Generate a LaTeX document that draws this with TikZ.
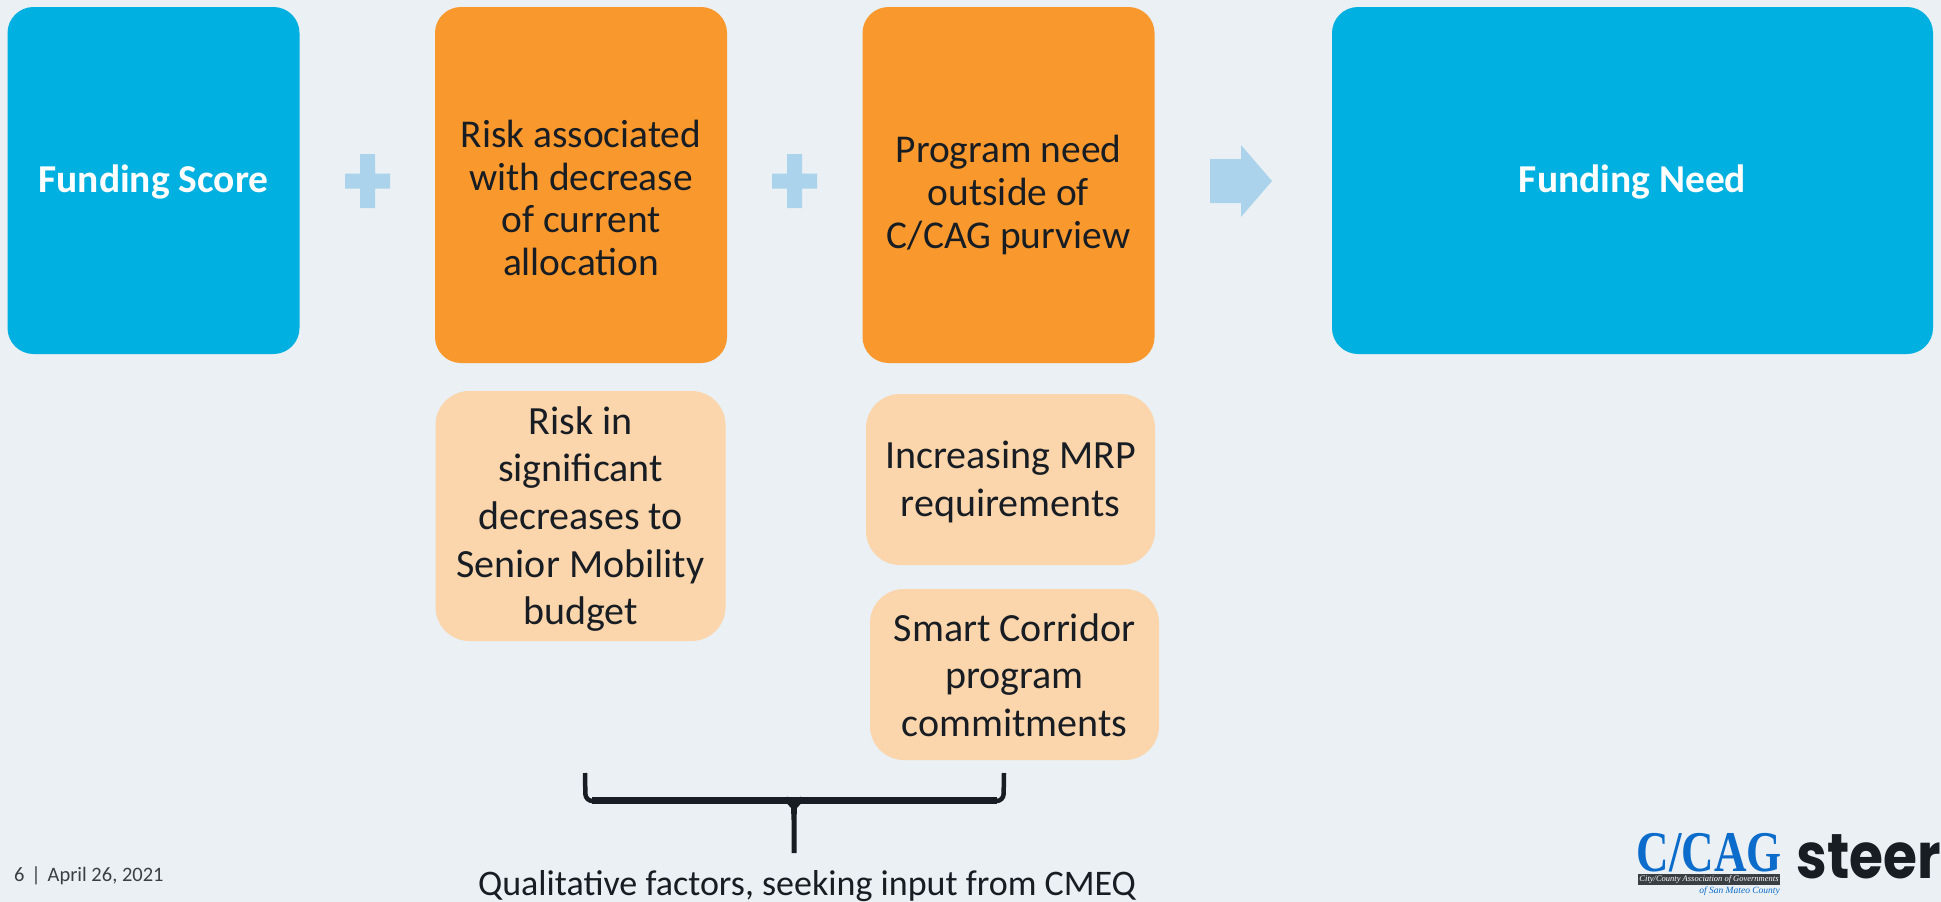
\documentclass[tikz,border=0pt]{standalone}
\usepackage{fontspec}
\usepackage{graphicx}
\setmainfont{Carlito}
\newfontfamily\cagfont{Liberation Serif}
\newfontfamily\steerfont{Poppins}
\definecolor{pagebg}{HTML}{EAF0F3}
\definecolor{scoreblue}{HTML}{00B0E0}
\definecolor{riskorange}{HTML}{F8982D}
\definecolor{factorpeach}{HTML}{FBD5AB}
\definecolor{signblue}{HTML}{ABD4EC}
\definecolor{inkdark}{HTML}{171D23}
\definecolor{cagblue}{HTML}{0B6CCB}
\begin{document}
\begin{tikzpicture}[x=1pt, y=-1pt]
  \tikzstyle{box} = [inner sep = 0pt, align = center, text = inkdark]
  \tikzstyle{total} = [box, fill = scoreblue, minimum height = 347pt, rounded corners = 26pt, text = white, font = \fontsize{39.5}{47}\selectfont\bfseries]
  \tikzstyle{risk} = [box, fill = riskorange, minimum width = 292pt, minimum height = 356pt, rounded corners = 26pt]
  \tikzstyle{factor} = [box, fill = factorpeach, minimum width = 290pt, rounded corners = 34pt]
  \tikzstyle{risktext} = [box, font = \fontsize{39.4}{42.7}\selectfont]
  \tikzstyle{factortext} = [box, font = \fontsize{40}{47.7}\selectfont]
  \tikzstyle{sign} = [fill = signblue]
  \tikzstyle{bracket} = [inkdark, line cap = butt]

  \fill[pagebg] (0,0) rectangle (1941,902);
  \useasboundingbox (0,0) rectangle (1941,902);

  \node[total, minimum width = 292pt] (score) at (153.5,180.5) {};
  \node[total, fill = none] (scoretext) at (153.5,181.5) {Funding Score};
  \node[risk] (decrease) at (581,185) {};
  \node[risktext] (decreasetext) at (581,198) {Risk associated\\with decrease\\of current\\allocation};
  \node[risk] (program) at (1008.5,185) {};
  \node[risktext] (programtext) at (1008.5,195) {Program need\\outside of\\C/CAG purview};
  \node[total, minimum width = 601pt] (need) at (1632.5,180.5) {};
  \node[total, fill = none] (needtext) at (1632.5,181.5) {Funding Need};

  \node[factor, minimum height = 250pt] (senior) at (580.5,516) {};
  \node[factortext] (seniortext) at (580.5,519) {Risk in\\significant\\decreases to\\Senior Mobility\\budget};
  \node[factor, minimum width = 289pt, minimum height = 171pt] (mrp) at (1010.5,479.5) {};
  \node[factortext] (mrptext) at (1010.5,482) {Increasing MRP\\requirements};
  \node[factor, minimum width = 289pt, minimum height = 171pt] (corridor) at (1014.5,674.5) {};
  \node[factortext] (corridortext) at (1014.5,675) {Smart Corridor\\program\\commitments};

  \foreach \signx in {367.5, 794.5} {
    \begin{scope}[shift={(\signx,181)}]
      \fill[sign] (-7.5,-27) -- (7.5,-27) -- (7.5,-7.5) -- (22.5,-7.5) -- (22.5,7.5) -- (7.5,7.5) -- (7.5,27) -- (-7.5,27) -- (-7.5,7.5) -- (-22.5,7.5) -- (-22.5,-7.5) -- (-7.5,-7.5) -- cycle;
    \end{scope}
  }
  \fill[sign] (1210,159) -- (1241,159) -- (1241,145) -- (1272,181) -- (1241,217) -- (1241,203) -- (1210,203) -- cycle;

  \coordinate (bracketleft) at (585,773);
  \coordinate (bracketright) at (1004,773);
  \coordinate (bracketend) at (794,853);
  \draw[bracket, line width = 4.5pt, rounded corners = 7pt] (bracketleft) -- (585.5,801) -- (600,801);
  \draw[bracket, line width = 4.5pt, rounded corners = 7pt] (bracketright) -- (1003.5,801) -- (990,801);
  \draw[bracket, line width = 7pt] (592,800) -- (997,800);
  \fill[bracket] (787,796.5) -- (794,801) -- (801,796.5) -- (801,803.5) -- (797,808) -- (796.5,820) -- (796.5,853) -- (791.5,853) -- (791.5,820) -- (791,808) -- (787,803.5) -- cycle;

  \node[box, font = \fontsize{36}{42}\selectfont] (caption) at (807,886) {Qualitative factors, seeking input from CMEQ};
  \node[box, font = \fontsize{20.5}{24}\selectfont, anchor = west, text = inkdark!85] (pagenum) at (14,876) {6\,\,|\,\,April 26, 2021};

  \node[box, text = cagblue, font = \cagfont\fontsize{45}{45}\selectfont\bfseries, anchor = south] (cag) at (1709,872.5) {\scalebox{1}[1.28]{C/CAG}};
  \node[fill = inkdark!85, text = white, inner sep = 0pt, minimum width = 142pt, minimum height = 11pt, font = \cagfont\fontsize{8.5}{10}\selectfont\itshape] (cagbar) at (1709,879) {City/County Association of Governments};
  \node[box, text = cagblue, font = \cagfont\fontsize{9.5}{10}\selectfont\itshape, anchor = east] (cagcounty) at (1780,891) {of San Mateo County};
  \node[box, font = \steerfont\fontsize{55}{55}\selectfont\bfseries, anchor = east] (steer) at (1941,857) {\scalebox{1}[1.15]{steer}};
\end{tikzpicture}
\end{document}
